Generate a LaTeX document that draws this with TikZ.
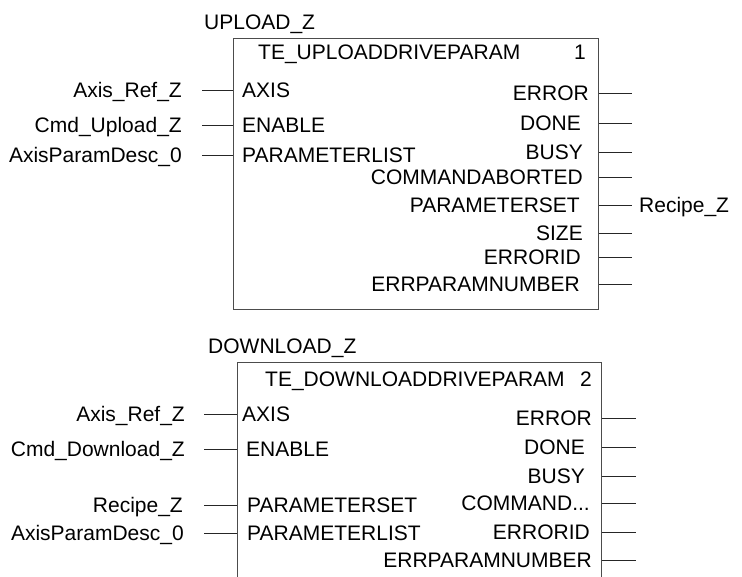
\documentclass[tikz,border=0pt]{standalone}
\usepackage{fontspec}
\setmainfont{Liberation Sans}
\usetikzlibrary{positioning}

\tikzset{
  fbbox/.style={draw=black!70, line width=0.9pt, inner sep=0pt, anchor=north west},
  wire/.style={draw=black!85, line width=0.8pt},
  pinlbl/.style={inner sep=0pt, text height=15pt, text depth=0pt}
}

\begin{document}
\begin{tikzpicture}[x=1pt, y=-1pt, every node/.style={pinlbl, font=\fontsize{21}{25}\selectfont}]
				\useasboundingbox (0,0) rectangle (742,577);
				\clip (0,0) rectangle (742,577);
				
				% 1. 上传功能块 UPLOAD_Z
				\node[anchor=west] (upname) at (204,22) {UPLOAD\_Z};
				\node[fbbox, minimum width=365pt, minimum height=271pt] (upbox) at (233,38) {};
				\node[anchor=west] (uptype) at (258,52) {TE\_UPLOADDRIVEPARAM};
				\node[anchor=east] (upnum) at (586,52) {1};
				
				% 输入引脚与变量
				\coordinate (upin) at (202,0);
				\node[anchor=west] (upaxis) at (242,90) {AXIS};
				\node[anchor=west] (upenable) at (242,125) {ENABLE};
				\node[anchor=west] (upplist) at (242,155) {PARAMETERLIST};
				\node[anchor=east] (upaxisvar) at (182,90) {Axis\_Ref\_Z};
				\node[anchor=east] (upenablevar) at (182,125) {Cmd\_Upload\_Z};
				\node[anchor=east] (upplistvar) at (182,155) {AxisParamDesc\_0};
				\draw[wire] (upaxisvar -| upin) -- (upaxisvar -| upbox.west);
				\draw[wire] (upenablevar -| upin) -- (upenablevar -| upbox.west);
				\draw[wire] (upplistvar -| upin) -- (upplistvar -| upbox.west);
				
				% 输出引脚 (右侧短线)
				\coordinate (upout) at (632,0);
				\node[anchor=east] (uperror) at (589,93) {ERROR};
				\node[anchor=east] (updone) at (581,123) {DONE};
				\node[anchor=east] (upbusy) at (583,152) {BUSY};
				\node[anchor=east] (upabort) at (583,177) {COMMANDABORTED};
				\node[anchor=east] (upset) at (580,205) {PARAMETERSET};
				\node[anchor=east] (upsize) at (583,233) {SIZE};
				\node[anchor=east] (uperrid) at (581,257) {ERRORID};
				\node[anchor=east] (uperrnum) at (580,284) {ERRPARAMNUMBER};
				\node[anchor=west] (upsetvar) at (639,205) {Recipe\_Z};
				\draw[wire] (uperror -| upbox.east) -- (uperror -| upout);
				\draw[wire] (updone -| upbox.east) -- (updone -| upout);
				\draw[wire] (upbusy -| upbox.east) -- (upbusy -| upout);
				\draw[wire] (upabort -| upbox.east) -- (upabort -| upout);
				\draw[wire] (upset -| upbox.east) -- (upset -| upout);
				\draw[wire] (upsize -| upbox.east) -- (upsize -| upout);
				\draw[wire] (uperrid -| upbox.east) -- (uperrid -| upout);
				\draw[wire] (uperrnum -| upbox.east) -- (uperrnum -| upout);
				
				% 2. 下载功能块 DOWNLOAD_Z (下边缘被裁切)
				\node[anchor=west] (dnname) at (208,346) {DOWNLOAD\_Z};
				\node[fbbox, minimum width=364pt, minimum height=240pt] (dnbox) at (237,362) {};
				\node[anchor=west] (dntype) at (265,379) {TE\_DOWNLOADDRIVEPARAM};
				\node[anchor=east] (dnnum) at (592,379) {2};
				
				% 输入引脚与变量
				\coordinate (dnin) at (204,0);
				\node[anchor=west] (dnaxis) at (242,414) {AXIS};
				\node[anchor=west] (dnenable) at (246,449) {ENABLE};
				\node[anchor=west] (dnset) at (247,505) {PARAMETERSET};
				\node[anchor=west] (dnplist) at (247,533) {PARAMETERLIST};
				\node[anchor=east] (dnaxisvar) at (185,414) {Axis\_Ref\_Z};
				\node[anchor=east] (dnenablevar) at (185,449) {Cmd\_Download\_Z};
				\node[anchor=east] (dnsetvar) at (183,505) {Recipe\_Z};
				\node[anchor=east] (dnplistvar) at (184,533) {AxisParamDesc\_0};
				\draw[wire] (dnaxisvar -| dnin) -- (dnaxisvar -| dnbox.west);
				\draw[wire] (dnenablevar -| dnin) -- (dnenablevar -| dnbox.west);
				\draw[wire] (dnsetvar -| dnin) -- (dnsetvar -| dnbox.west);
				\draw[wire] (dnplistvar -| dnin) -- (dnplistvar -| dnbox.west);
				
				% 输出引脚
				\coordinate (dnout) at (636,0);
				\node[anchor=east] (dnerror) at (592,418) {ERROR};
				\node[anchor=east] (dndone) at (585,447) {DONE};
				\node[anchor=east] (dnbusy) at (585,476) {BUSY};
				\node[anchor=east] (dnabort) at (590,503) {COMMAND...};
				\node[anchor=east] (dnerrid) at (590,532) {ERRORID};
				\node[anchor=east] (dnerrnum) at (592,560) {ERRPARAMNUMBER};
				\draw[wire] (dnerror -| dnbox.east) -- (dnerror -| dnout);
				\draw[wire] (dndone -| dnbox.east) -- (dndone -| dnout);
				\draw[wire] (dnbusy -| dnbox.east) -- (dnbusy -| dnout);
				\draw[wire] (dnabort -| dnbox.east) -- (dnabort -| dnout);
				\draw[wire] (dnerrid -| dnbox.east) -- (dnerrid -| dnout);
				\draw[wire] (dnerrnum -| dnbox.east) -- (dnerrnum -| dnout);
			\end{tikzpicture}
\end{document}
